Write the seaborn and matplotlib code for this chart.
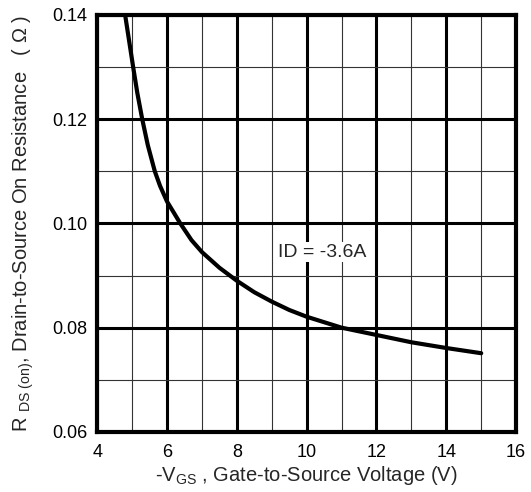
"""RDS(on) vs -VGS curve, redrawn with seaborn."""

import pandas as pd
import seaborn as sns
import matplotlib.pyplot as plt
from matplotlib.ticker import MultipleLocator

# values
vgs = [4.8, 5.03, 5.15, 5.29, 5.45, 5.65, 5.8, 6.0, 6.2, 6.38, 6.7, 7.0, 7.5,
       8.0, 8.5, 9.0, 9.5, 10.0, 11.0, 12.0, 13.0, 14.0, 15.0]
rds = [0.140, 0.130, 0.125, 0.120, 0.1150, 0.110, 0.1072, 0.1042, 0.1020, 0.100,
       0.0968, 0.0945, 0.0915, 0.0890, 0.0868, 0.0850, 0.0834, 0.0821, 0.0800,
       0.0786, 0.0772, 0.0761, 0.0751]
x_ticks = [4, 6, 8, 10, 12, 14, 16]
y_ticks = [0.06, 0.08, 0.10, 0.12, 0.14]
note = "ID = -3.6A"

sns.set_theme(style="white")
plt.rcParams['font.family'] = ['Liberation Sans', 'DejaVu Sans']
plt.rcParams['mathtext.fontset'] = 'custom'
plt.rcParams['mathtext.rm'] = 'Liberation Sans'
plt.rcParams['mathtext.it'] = 'Liberation Sans'

df = pd.DataFrame({'vgs': vgs, 'rds': rds})

fig = plt.figure(figsize=(5.31, 4.92), dpi=100)
ax = fig.add_axes([0.183, 0.122, 0.789, 0.848])

# grid: thick major, thin minor
ax.xaxis.set_minor_locator(MultipleLocator(1))
ax.yaxis.set_minor_locator(MultipleLocator(0.01))
ax.grid(which='major', color='black', linewidth=2.2)
ax.grid(which='minor', color='#333333', linewidth=0.8)
ax.set_axisbelow(True)

sns.lineplot(data=df, x='vgs', y='rds', ax=ax, color='black', linewidth=3,
             zorder=3)

ax.set_xlim(4, 16)
ax.set_ylim(0.06, 0.14)
ax.set_xticks(x_ticks)
ax.set_yticks(y_ticks)
ax.set_xticklabels([str(t) for t in x_ticks])
ax.set_yticklabels([f"{t:.2f}" for t in y_ticks])
ax.tick_params(which='both', length=0, labelsize=13, colors='black')
ax.tick_params(axis='y', pad=7)
ax.tick_params(axis='x', pad=9)

for s in ax.spines.values():
    s.set_color('black')
    s.set_linewidth(3)

ax.text(10.45, 0.0945, note, fontsize=14, ha='center', va='center', zorder=4,
        bbox=dict(facecolor='white', edgecolor='none', pad=1))

ax.set_xlabel(r"-V$_{\rm GS}$ , Gate-to-Source Voltage (V)", fontsize=14.5, labelpad=2)
ax.set_ylabel(r"R $_{\rm DS\ (on)}$, Drain-to-Source On Resistance   ( $\Omega$ )",
              fontsize=14.5, labelpad=12)

fig.savefig("out.png", dpi=100)
